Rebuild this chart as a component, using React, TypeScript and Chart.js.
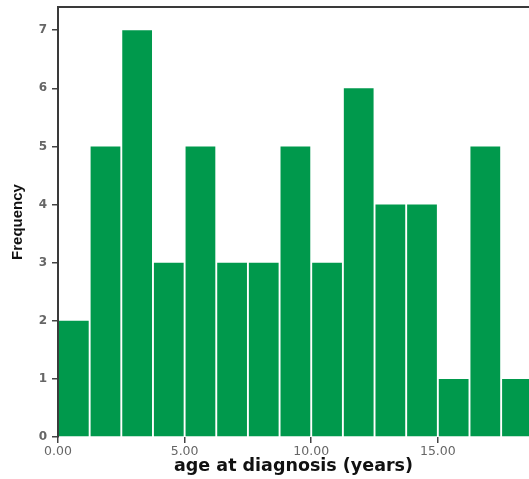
import React, { useEffect, useRef } from "react";
import { Chart, registerables } from "chart.js";

Chart.register(...registerables);

// Histogram bins (age in years, bin width 1.25) — midpoints
const binMidpoints = [0.625, 1.875, 3.125, 4.375, 5.625, 6.875, 8.125, 9.375, 10.625, 11.875, 13.125, 14.375, 15.625, 16.875, 18.125];
const frequencies = [2, 5, 7, 3, 5, 3, 3, 5, 3, 6, 4, 4, 1, 5, 1];
const xTickValues = [0, 5, 10, 15];
const yTickValues = [0, 1, 2, 3, 4, 5, 6, 7];
const xTitle = "age at diagnosis (years)";
const yTitle = "Frequency";

const topFramePlugin = {
  id: "topFrame",
  beforeDatasetsDraw(chart: any) {
    const { ctx, chartArea } = chart;
    ctx.save();
    ctx.strokeStyle = "#3a3a3a";
    ctx.lineWidth = 2;
    ctx.beginPath();
    ctx.moveTo(chartArea.left - 1, chartArea.top);
    ctx.lineTo(chartArea.right, chartArea.top);
    ctx.stroke();
    ctx.restore();
  },
};

export default function App() {
  const ref = useRef<HTMLCanvasElement | null>(null);

  useEffect(() => {
    if (!ref.current) return;
    const chart = new Chart(ref.current, {
      type: "bar",
      data: {
        datasets: [
          {
            label: "Frequency",
            data: binMidpoints.map((x, i) => ({ x, y: frequencies[i] })),
            backgroundColor: "#00994c",
            borderWidth: 0,
            barPercentage: 0.94,
            categoryPercentage: 1,
          },
        ],
      },
      plugins: [topFramePlugin],
      options: {
        animation: false,
        responsive: false,
        devicePixelRatio: 1,
        layout: { padding: { top: 7, right: 0, left: 0, bottom: 0 } },
        plugins: { legend: { display: false }, tooltip: { enabled: false } },
        scales: {
          x: {
            type: "linear",
            offset: false,
            min: 0,
            max: 18.6,
            afterBuildTicks: (axis: any) => {
              axis.ticks = xTickValues.map((v) => ({ value: v }));
            },
            afterFit: (scale: any) => {
              scale.height = 42;
              scale.paddingLeft = 0;
              scale.paddingRight = 0;
            },
            border: { display: false },
            grid: {
              display: true,
              drawOnChartArea: false,
              drawTicks: true,
              tickLength: 6,
              color: "#444",
              lineWidth: 1.5,
              offset: false,
            },
            ticks: {
              color: "#666",
              padding: 1,
              font: { family: "DejaVu Sans", size: 12.5 },
              maxRotation: 0,
              callback: (v: any) => Number(v).toFixed(2),
            },
            title: {
              display: true,
              text: xTitle,
              color: "#111",
              font: { family: "DejaVu Sans", size: 17.5, weight: "bold" },
              padding: { top: 0, bottom: 2 },
            },
          },
          y: {
            type: "linear",
            min: 0,
            max: 7.4,
            afterBuildTicks: (axis: any) => {
              axis.ticks = yTickValues.map((v) => ({ value: v }));
            },
            afterFit: (scale: any) => {
              scale.width = 58;
              scale.paddingTop = 0;
              scale.paddingBottom = 0;
            },
            border: { display: true, color: "#3a3a3a", width: 2 },
            grid: {
              display: true,
              drawOnChartArea: false,
              drawTicks: true,
              tickLength: 6,
              color: "#444",
              lineWidth: 1.5,
            },
            ticks: {
              color: "#666",
              padding: 5,
              font: { family: "DejaVu Sans", size: 12, weight: "bold" },
            },
            title: {
              display: true,
              text: yTitle,
              color: "#111",
              font: { family: "Liberation Sans", size: 15, weight: "bold" },
              padding: { top: 9, bottom: 0 },
            },
          },
        },
      },
    });
    return () => chart.destroy();
  }, []);

  return (
    <div style={{ position: "absolute", left: 0, top: 0, width: 529, height: 479, background: "#fff" }}>
      <canvas ref={ref} width={529} height={479} style={{ display: "block" }} />
    </div>
  );
}
